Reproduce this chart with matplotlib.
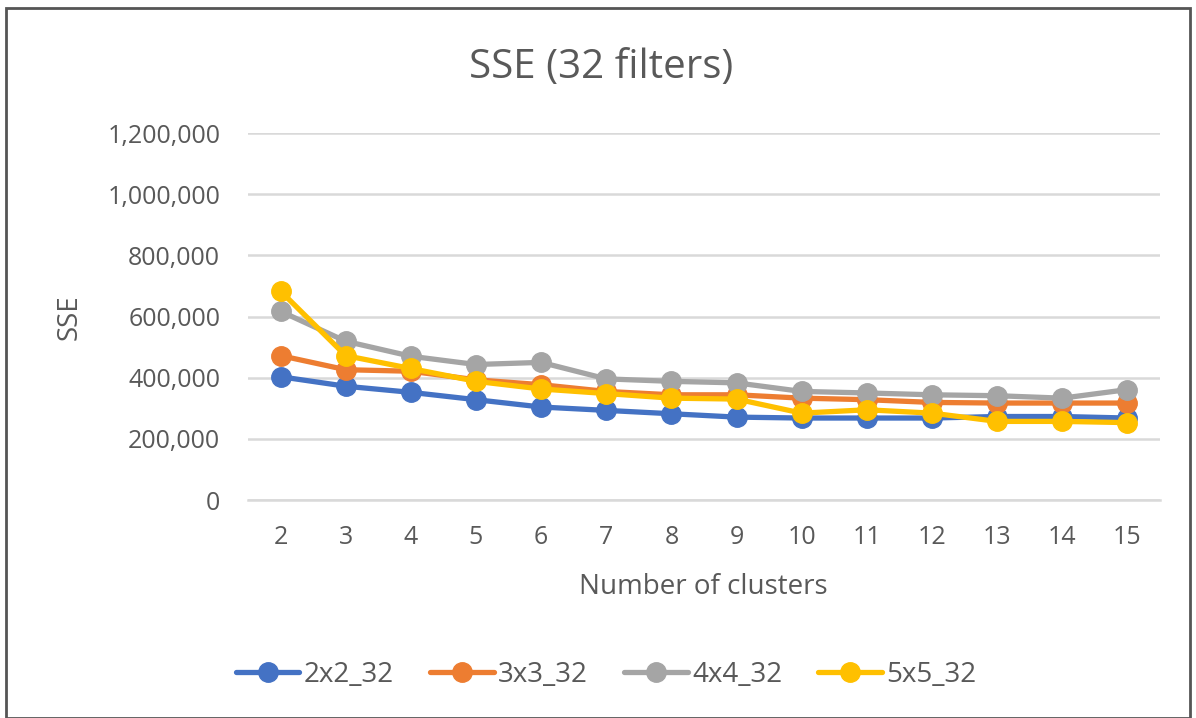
import matplotlib.pyplot as plt
from matplotlib.patches import Rectangle
from matplotlib.ticker import FuncFormatter

# data
clusters = [2, 3, 4, 5, 6, 7, 8, 9, 10, 11, 12, 13, 14, 15]
sse_2x2 = [403000, 372000, 352000, 328000, 304000, 293000, 282000, 271000, 268000, 268000, 268000, 273000, 273000, 268000]
sse_3x3 = [472000, 426000, 421000, 393000, 377000, 355000, 344000, 344000, 333000, 328000, 319000, 317000, 317000, 317000]
sse_4x4 = [617000, 519000, 470000, 443000, 450000, 396000, 388000, 383000, 355000, 350000, 344000, 341000, 333000, 361000]
sse_5x5 = [683000, 472000, 430000, 388000, 363000, 348000, 333000, 330000, 284000, 295000, 284000, 257000, 257000, 253000]
series_names = ["2x2_32", "3x3_32", "4x4_32", "5x5_32"]
series_colors = ["#4472C4", "#ED7D31", "#A5A5A5", "#FFC000"]
y_ticks = [0, 200000, 400000, 600000, 800000, 1000000, 1200000]

plt.rcParams['font.family'] = ['Open Sans', 'DejaVu Sans']
W, H = 1196, 718
txt = "#595959"

fig = plt.figure(figsize=(W / 100, H / 100), dpi=100)
ax = fig.add_axes([248 / W, 1 - 500 / H, (1160 - 248) / W, (500 - 133) / H])

# outer chart frame
fig.patches.append(Rectangle((6 / W, 0), 1184 / W, 1 - 8 / H, transform=fig.transFigure,
                             fill=False, edgecolor="#555555", linewidth=2))

pos = list(range(len(clusters)))
for vals, name, col in zip([sse_2x2, sse_3x3, sse_4x4, sse_5x5], series_names, series_colors):
    ax.plot(pos, vals, color=col, linewidth=3.8, marker="o", markersize=14, label=name,
            solid_capstyle="round")

ax.set_xlim(-0.5, len(clusters) - 0.5)
ax.set_ylim(0, 1200000)
ax.set_yticks(y_ticks)
ax.yaxis.set_major_formatter(FuncFormatter(lambda v, p: f"{int(v):,}"))
ax.set_xticks(pos)
ax.set_xticklabels([str(c) for c in clusters])
ax.grid(axis="y", color="#D9D9D9", linewidth=1.8)
ax.set_axisbelow(True)
for s in ["top", "right", "left"]:
    ax.spines[s].set_visible(False)
ax.spines["bottom"].set_color("#D9D9D9")
ax.spines["bottom"].set_linewidth(1.8)
ax.tick_params(axis="y", length=0, labelsize=18, colors=txt, pad=20)
ax.tick_params(axis="x", length=0, labelsize=18, colors=txt, pad=18)

fig.text(601 / W, 1 - 68 / H, "SSE (32 filters)", fontsize=29, color=txt, ha="center", va="center")
fig.text(703 / W, 1 - 587 / H, "Number of clusters", fontsize=20, color=txt, ha="center", va="center")
fig.text(70 / W, 1 - 317 / H, "SSE", fontsize=20, color=txt, ha="center", va="center", rotation=90)

fig.legend(loc="center", bbox_to_anchor=(606 / W, 1 - 675 / H), ncol=4, frameon=False,
           fontsize=20, labelcolor=txt, handlelength=2.3, handletextpad=0.15, columnspacing=1.3)

fig.savefig("out.png", dpi=100)
